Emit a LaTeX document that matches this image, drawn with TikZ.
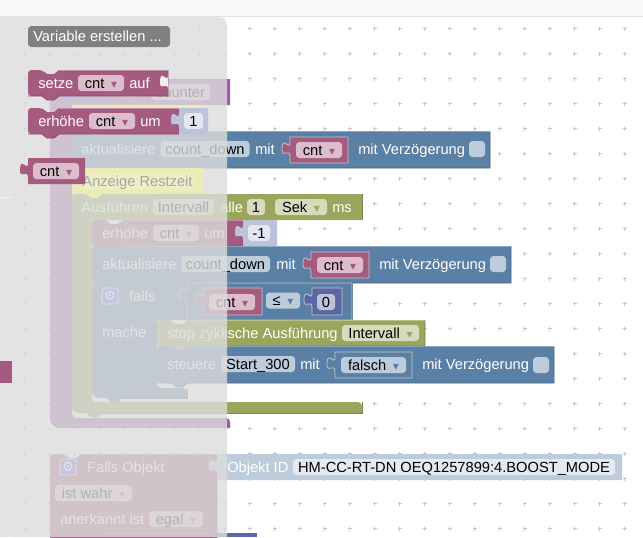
\documentclass[tikz,border=0pt]{standalone}
\usepackage{fontspec}
\setmainfont{Liberation Sans}
\newfontfamily\symfont{DejaVu Sans}
\definecolor{blockPink}{HTML}{A55B80}
\definecolor{blockBlue}{HTML}{5B80A5}
\definecolor{blockOlive}{HTML}{9BA55B}
\definecolor{blockPurple}{HTML}{995BA5}
\definecolor{blockIndigo}{HTML}{5B67A5}
\definecolor{blockLav}{HTML}{BDC2DB}
\definecolor{blockSky}{HTML}{BDCCDB}
\definecolor{gearBox}{HTML}{6868F0}
\definecolor{noteYellow}{HTML}{ECEBB8}
\definecolor{noteField}{HTML}{EEEEC6}
\def\px{0.75pt}
\tikzstyle{blabel}=[text=white,anchor=west,inner sep=0pt,text height=9.75pt,text depth=2.25pt]
\tikzstyle{bfield}=[fill=white,fill opacity=.6,text opacity=1,text=black,rounded corners=2.5pt,inner sep=0pt,text height=9.75pt,text depth=2.25pt,minimum height=16*\px]
\tikzstyle{boxline}=[line width=.6pt,draw=white!55!gray]
\tikzstyle{gearbox}=[fill=gearBox,draw=white,line width=.5pt,rounded corners=2pt]
\tikzstyle{gear}=[text=white,inner sep=0pt,font=\symfont\fontsize{10}{10}\selectfont]
\newcommand{\dd}[1]{\hspace{5pt}{\symfont\fontsize{9}{9}\selectfont\textcolor{#1}{▾}}}
% statement block: colour, x1, y1, x2, y2
\newcommand{\stmt}[5]{%
  \fill[#1] (#2,{#3+8}) [rounded corners=2.5pt] -- (#2,#3) -- ({#2+14},#3) [sharp corners] -- ({#2+19},{#3+4}) -- ({#2+26},{#3+4}) -- ({#2+31},#3) -- (#4,#3) -- (#4,#5) -- ({#2+31},#5) -- ({#2+26},{#5+4}) -- ({#2+19},{#5+4}) -- ({#2+14},#5) [rounded corners=2.5pt] -- (#2,#5) -- cycle;
  \draw[#1!80!black,line width=.6pt] (#4,#3) -- (#4,#5) -- ({#2+31},#5) -- ({#2+26},{#5+4}) -- ({#2+19},{#5+4}) -- ({#2+14},#5) -- (#2,#5);
  \draw[#1!70!white,line width=.5pt] ({#2+31},#3) -- (#4,#3);
}
% value block with the tab on its left side: colour, x1, y1, x2, y2
\newcommand{\valb}[5]{%
  \fill[#1] (#2,#3) -- (#4,#3) -- (#4,#5) -- (#2,#5) -- (#2,{#3+20}) .. controls (#2,{#3+10}) and ({#2-8},{#3+22}) .. ({#2-8},{#3+12.5}) .. controls ({#2-8},{#3-3}) and (#2,{#3+15}) .. (#2,{#3+5}) -- cycle;
}
% the same, outlined
\newcommand{\valo}[5]{%
  \filldraw[fill=#1,boxline] (#2,#3) -- (#4,#3) -- (#4,#5) -- (#2,#5) -- (#2,{#3+20}) .. controls (#2,{#3+10}) and ({#2-8},{#3+22}) .. ({#2-8},{#3+12.5}) .. controls ({#2-8},{#3-3}) and (#2,{#3+15}) .. (#2,{#3+5}) -- cycle;
}
% empty input on a right edge: colour, x, y
\newcommand{\socket}[3]{%
  \fill[#1] (#2,{#3+20}) .. controls (#2,{#3+10}) and ({#2-8},{#3+22}) .. ({#2-8},{#3+12.5}) .. controls ({#2-8},{#3-3}) and (#2,{#3+15}) .. (#2,{#3+5}) -- cycle;
}
% block that wraps others: colour, x1, y1, x2, yhead, xinner, yfoot, xfoot, ybottom
\newcommand{\wrapb}[9]{%
  \fill[#1] (#2,{#3+8}) [rounded corners=2.5pt] -- (#2,#3) -- ({#2+14},#3) [sharp corners] -- ({#2+19},{#3+4}) -- ({#2+26},{#3+4}) -- ({#2+31},#3) -- (#4,#3) -- (#4,#5) -- (#6,#5) [rounded corners=3pt] -- (#6,#7) -- (#8,#7) [sharp corners] -- (#8,#9) -- ({#2+31},#9) -- ({#2+26},{#9+4}) -- ({#2+19},{#9+4}) -- ({#2+14},#9) [rounded corners=5pt] -- (#2,#9) -- cycle;
  \draw[#1!80!black,line width=.6pt] (#4,#3) -- (#4,#5);
  \draw[#1!80!black,line width=.6pt] (#8,#7) -- (#8,#9) -- ({#2+31},#9);
}
\begin{document}
\begin{tikzpicture}[x=0.75pt,y=-0.75pt,every node/.append style={font=\fontsize{11}{13}\selectfont}]
\useasboundingbox (0,0) rectangle (643,537);
\fill[white] (0,0) rectangle (643,537);

% grid
\foreach \i in {0,...,25}
  \foreach \j in {0,...,21}
    \draw[black!22,line width=.5pt] ({24.5+25*\i-2},{3.5+25*\j}) -- ++(4,0) ({24.5+25*\i},{3.5+25*\j-2}) -- ++(0,4);

% top band and toolbox
\fill[black!2] (0,0) rectangle (643,16);
\draw[black!12,line width=.75pt] (0,16.5) -- (643,16.5);
\fill[black!11] (0,17) rectangle (12,537);
\draw[black!5] (0,197) -- (12,197);
\fill[blockPink] (0,361) rectangle (12,383);

% block with the counter
\fill[blockPurple] (50,87) [rounded corners=2.5pt] -- (50,79) [sharp corners] -- (230,79) -- (230,105) -- (72,105) [rounded corners=3pt] -- (72,418) -- (230,418) [sharp corners] -- (230,428) [rounded corners=7pt] -- (50,428) -- cycle;
\fill[gearBox,rounded corners=2pt] (61,84) rectangle (75,100);
\fill[gearBox,rounded corners=2pt] (88,84) rectangle (102,100);
\node[blabel] (lblNach) at (115,92) {nach};
\node[bfield,minimum width=59*\px] (fldCounter) at (180.5,92) {counter};

% first update
\stmt{blockBlue}{72}{131}{490}{168}
\node[blabel] (lblAkt) at (81,149) {aktualisiere};
\node[bfield,minimum width=89*\px] (fldDown) at (205,149) {count\_down};
\node[blabel] (lblMit) at (255,149) {mit};
\valo{blockPink}{290}{137}{348}{163}
\node[bfield,minimum width=46*\px] (fldCnt) at (319,150) {cnt\dd{blockPink}};
\node[blabel] (lblVerz) at (358,149) {mit Verzögerung};
\node[bfield,minimum width=16*\px] (chkA) at (477,149) {};

% interval
\wrapb{blockOlive}{72}{194}{362}{220}{92}{402}{362}{413}
\node[blabel] (lblAus) at (81,207) {Ausführen};
\node[bfield,minimum width=61*\px] (fldInt) at (183.5,207) {Intervall};
\node[blabel] (lblAlle) at (220,207) {alle};
\node[bfield,minimum width=18*\px] (fldOne) at (256,207) {1};
\node[bfield,minimum width=52*\px] (fldSek) at (301,207) {Sek\dd{blockOlive}};
\node[blabel] (lblMs) at (332,207) {ms};

% count down
\stmt{blockPink}{92}{220}{243}{246}
\node[blabel] (lblErh) at (102,233) {erhöhe};
\node[bfield,minimum width=46*\px] (fldCntB) at (176,233) {cnt\dd{blockPink}};
\node[blabel] (lblUm) at (204,233) {um};
\valb{blockLav}{243}{220}{277}{246}
\node[bfield,minimum width=22*\px] (fldMinus) at (259,233) {-1};

% second update
\stmt{blockBlue}{92}{246}{511}{283}
\node[blabel] (lblAktB) at (102,264) {aktualisiere};
\node[bfield,minimum width=89*\px] (fldDownB) at (225.5,264) {count\_down};
\node[blabel] (lblMitB) at (276,264) {mit};
\valo{blockPink}{311}{252}{369}{278}
\node[bfield,minimum width=46*\px] (fldCntC) at (340,265) {cnt\dd{blockPink}};
\node[blabel] (lblVerzB) at (379,264) {mit Verzögerung};
\node[bfield,minimum width=16*\px] (chkB) at (498,264) {};

% if
\wrapb{blockBlue}{92}{283}{352}{320}{157}{388}{187}{398}
\fill[gearbox] (102,288) rectangle (118,304);
\node[gear] (gearA) at (110,296) {⚙};
\node[blabel] (lblFalls) at (129,296) {falls};
\node[blabel] (lblMache) at (102,332) {mache};
\valo{blockBlue}{187}{283}{352}{320}
\valo{blockPink}{204}{288}{262}{315}
\node[bfield,minimum width=46*\px] (fldCntD) at (232,302) {cnt\dd{blockPink}};
\node[bfield,minimum width=34*\px] (fldLe) at (283,300.5) {≤\dd{blockBlue}};
\valo{blockIndigo}{312}{288}{342}{315}
\node[bfield,minimum width=18*\px] (fldZero) at (326,302) {0};

% stop and set
\stmt{blockOlive}{157}{320}{425}{346}
\node[blabel] (lblStop) at (167,333) {stop zyklische Ausführung};
\node[bfield,minimum width=77*\px] (fldIntB) at (380.5,333) {Intervall\dd{blockOlive}};
\stmt{blockBlue}{157}{346}{554}{383}
\node[blabel] (lblSteuere) at (167,364) {steuere};
\node[bfield,minimum width=74*\px] (fldStart) at (258,364) {Start\_300};
\node[blabel] (lblMitC) at (300,364) {mit};
\valo{blockBlue}{335}{352}{412}{378}
\node[bfield,minimum width=65*\px] (fldFalsch) at (373.5,365) {falsch\dd{blockBlue}};
\node[blabel] (lblVerzC) at (422,364) {mit Verzögerung};
\node[bfield,minimum width=16*\px] (chkC) at (541,365) {};

% trigger on the object
\stmt{blockPink}{50}{454}{217}{550}
\fill[gearbox] (60,459) rectangle (76,475);
\node[gear] (gearB) at (68,467) {⚙};
\node[blabel] (lblObj) at (87,467) {Falls Objekt};
\node[bfield,minimum width=77*\px] (fldWahr) at (93.5,493) {ist wahr\dd{blockPink}};
\node[blabel] (lblAner) at (60,519) {anerkannt ist};
\node[bfield,minimum width=54*\px] (fldEgal) at (176,519) {egal\dd{blockPink}};
\valb{blockSky}{217}{454}{622}{480}
\node[blabel] (lblId) at (227,467) {Objekt ID};
\node[bfield,minimum width=322*\px] (fldId) at (454,467) {HM-CC-RT-DN OEQ1257899:4.BOOST\_MODE};
\stmt{blockPink}{72}{533}{211}{550}
\fill[blockIndigo] (211,533) rectangle (257,537);

% flyout
\fill[black!13.3,fill opacity=.8] (12,17) [rounded corners=6pt] -- (227,17) [sharp corners] -- (227,537) -- (12,537) -- cycle;

% comment lies on the flyout tint
\fill[noteYellow] (72,105) rectangle (202,131);
\fill[noteYellow] (72,168) -- (203,168) -- (203,193) -- (103,193) -- (98,197) -- (91,197) -- (86,193) -- (72,193) -- cycle;
\node[bfield,fill=noteField,fill opacity=1,text=black!35,minimum width=112*\px] (fldNote) at (137.5,181) {Anzeige Restzeit};

% flyout content
\fill[black!50,rounded corners=2.5pt] (28,26) rectangle (170,47);
\node[blabel] (btnVar) at (33,36.5) {Variable erstellen ...};

\stmt{blockPink}{28}{70}{168}{96}
\node[blabel] (lblSetze) at (38,83) {setze};
\node[bfield,minimum width=46*\px] (fldCntE) at (101,83) {cnt\dd{blockPink}};
\node[blabel] (lblAuf) at (129,83) {auf};
\socket{black!6}{168}{70}

\stmt{blockPink}{28}{108}{179}{134}
\node[blabel] (lblErhB) at (38,121) {erhöhe};
\node[bfield,minimum width=46*\px] (fldCntF) at (112,121) {cnt\dd{blockPink}};
\node[blabel] (lblUmB) at (140,121) {um};
\valb{blockLav}{179}{108}{208}{134}
\node[bfield,minimum width=19*\px] (fldOneB) at (193.5,121) {1};

\valb{blockPink}{28}{158}{85}{184}
\node[bfield,minimum width=46*\px] (fldCntG) at (56,171) {cnt\dd{blockPink}};
\end{tikzpicture}
\end{document}
